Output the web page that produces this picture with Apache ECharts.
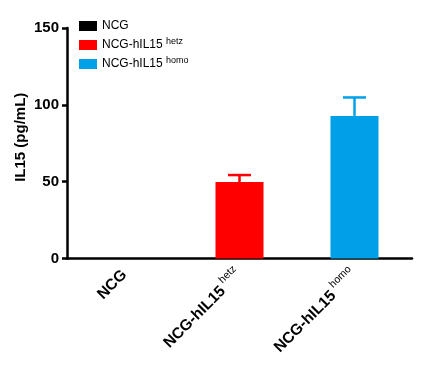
<!DOCTYPE html>
<html><head><meta charset="utf-8">
<script src="https://cdn.jsdelivr.net/npm/echarts@6/dist/echarts.min.js"></script>
<style>html,body{margin:0;padding:0;background:#fff}#c{width:431px;height:367px}</style>
</head><body><div id="c"></div>
<script>
const categories = ['NCG', 'NCG-hIL15|hetz', 'NCG-hIL15|homo'];
const seriesNames = ['NCG', 'NCG-hIL15|hetz', 'NCG-hIL15|homo'];
const means = [0, 49.8, 92.8];
const errorsUp = [0, 4.5, 12.0];
const colors = ['#000000', '#ff0000', '#00a0e8'];
const yTicks = [0, 50, 100, 150];

const FONT = '"Liberation Sans", Arial, sans-serif';
function richName(s, main, sup) {
  const p = s.split('|');
  return p.length > 1 ? '{' + main + '|' + p[0] + '} {' + sup + '|' + p[1] + '}' : '{' + main + '|' + p[0] + '}';
}

const chart = echarts.init(document.getElementById('c'));
const series = seriesNames.map((n, i) => ({
  name: n,
  type: 'bar',
  barWidth: 48,
  barGap: '-100%',
  itemStyle: { color: colors[i] },
  data: categories.map((c, j) => j === i ? means[j] : '-'),
  silent: true
}));
series.push({
  type: 'custom',
  silent: true,
  data: categories.map((c, j) => [j, means[j], means[j] + errorsUp[j]]),
  renderItem: function (params, api) {
    const j = api.value(0);
    if (errorsUp[j] <= 0) return null;
    const base = api.coord([j, api.value(1)]);
    const top = api.coord([j, api.value(2)]);
    const hw = 11.5;
    const style = { stroke: colors[j], lineWidth: 2.5 };
    return {
      type: 'group',
      children: [
        { type: 'line', shape: { x1: base[0], y1: base[1], x2: top[0], y2: top[1] }, style },
        { type: 'line', shape: { x1: top[0] - hw, y1: top[1], x2: top[0] + hw, y2: top[1] }, style }
      ]
    };
  },
  z: 3
});

chart.setOption({
  animation: false,
  grid: { left: 67, right: 19, top: 28, bottom: 108.5 },
  legend: {
    orient: 'vertical',
    left: 74, top: 15,
    itemWidth: 18, itemHeight: 10, itemGap: 5,
    icon: 'rect',
    data: seriesNames,
    formatter: n => richName(n, 'm', 's'),
    textStyle: {
      fontFamily: FONT, color: '#000',
      rich: {
        m: { fontSize: 12, fontFamily: FONT, color: '#000', lineHeight: 14 },
        s: { fontSize: 9, fontFamily: FONT, color: '#000', padding: [0, 0, 7, 0] }
      }
    }
  },
  xAxis: {
    type: 'category',
    data: categories,
    axisLine: { lineStyle: { color: '#000', width: 2.5 } },
    axisTick: { alignWithLabel: true, length: 5, lineStyle: { color: '#000', width: 2.5 } },
    axisLabel: {
      rotate: 45, margin: 14, interval: 0,
      formatter: v => richName(v, 'm', 's'),
      rich: {
        m: { fontSize: 15.5, fontWeight: 'bold', fontFamily: FONT, color: '#000' },
        s: { fontSize: 10.5, fontFamily: FONT, color: '#000', padding: [0, 0, 14, 0] }
      }
    }
  },
  yAxis: {
    type: 'value',
    min: 0, max: 150, interval: 50,
    name: 'IL15 (pg/mL)',
    nameLocation: 'middle',
    nameGap: 39,
    nameMoveOverlap: false,
    nameTextStyle: { fontSize: 15, fontWeight: 'bold', fontFamily: FONT, color: '#000', padding: [0, 0, 0, 12] },
    splitLine: { show: false },
    axisLine: { show: true, lineStyle: { color: '#000', width: 2.5 } },
    axisTick: { show: true, length: 5, lineStyle: { color: '#000', width: 2.5 } },
    axisLabel: { fontSize: 15, fontWeight: 'bold', fontFamily: FONT, color: '#000', margin: 8,
      customValues: yTicks }
  },
  series
});
</script></body></html>
